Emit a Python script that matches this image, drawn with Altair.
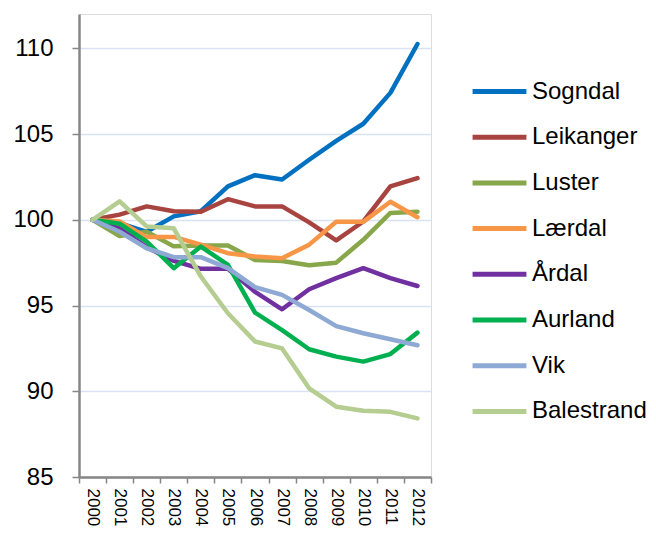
import altair as alt
import pandas as pd

years = [str(y) for y in range(2000, 2013)]
series = ["Sogndal", "Leikanger", "Luster", "Lærdal", "Årdal", "Aurland", "Vik", "Balestrand"]
colors = ["#0070C0", "#A8443F", "#88A64A", "#F79646", "#7030A0", "#00B050", "#8EA9D3", "#B6CD91"]

sogndal = [100, 99.8, 99.3, 100.2, 100.5, 101.95, 102.6, 102.35, 103.5, 104.6, 105.6, 107.4, 110.25]
leikanger = [100, 100.3, 100.78, 100.5, 100.47, 101.2, 100.78, 100.78, 99.85, 98.8, 99.9, 101.95, 102.43]
luster = [100, 99.05, 99.3, 98.45, 98.5, 98.5, 97.66, 97.6, 97.35, 97.5, 98.83, 100.4, 100.47]
laerdal = [100, 99.9, 98.99, 99.0, 98.55, 98.05, 97.86, 97.76, 98.55, 99.88, 99.88, 101.05, 100.15]
ardal = [100, 99.5, 98.4, 97.6, 97.14, 97.14, 95.8, 94.78, 95.95, 96.6, 97.18, 96.6, 96.14]
aurland = [100, 99.77, 98.73, 97.18, 98.44, 97.37, 94.59, 93.57, 92.45, 92.02, 91.73, 92.17, 93.42]
vik = [100, 99.3, 98.34, 97.82, 97.82, 97.18, 96.07, 95.62, 94.74, 93.8, 93.38, 93.03, 92.68]
balestrand = [100, 101.07, 99.61, 99.5, 96.69, 94.55, 92.9, 92.5, 90.17, 89.1, 88.86, 88.8, 88.42]

values = [sogndal, leikanger, luster, laerdal, ardal, aurland, vik, balestrand]

rows = []
for name, vals in zip(series, values):
    for yr, v in zip(years, vals):
        rows.append({"year": yr, "kommune": name, "value": v})
df = pd.DataFrame(rows)

FONT = "Liberation Sans"

chart = alt.Chart(df).mark_line(strokeWidth=4.5, strokeCap="round", strokeJoin="round").encode(
    x=alt.X("year:N", sort=years, title=None, bandPosition=0.5,
            scale=alt.Scale(type="band", paddingInner=0, paddingOuter=0),
            axis=alt.Axis(labelAngle=90, labelFontSize=17, labelColor="#000000", labelFont=FONT,
                          labelPadding=5, tickBand="extent", tickSize=6, tickColor="#868686",
                          tickWidth=1.5, domainColor="#868686", domainWidth=2.5, grid=False,
                          labelAlign="left", labelBaseline="middle")),
    y=alt.Y("value:Q", title=None,
            scale=alt.Scale(domain=[85, 112], nice=False, zero=False),
            axis=alt.Axis(values=[85, 90, 95, 100, 105, 110], labelFontSize=24, labelColor="#000000",
                          labelFont=FONT, labelPadding=19, tickSize=7, tickColor="#868686",
                          tickWidth=1.5, domainColor="#868686", domainWidth=2.5,
                          grid=True, gridColor="#D9E2F3", gridWidth=1.5)),
    color=alt.Color("kommune:N", sort=series,
                    scale=alt.Scale(domain=series, range=colors),
                    legend=alt.Legend(title=None, orient="none", legendX=391, legendY=48,
                                      symbolType="stroke", symbolSize=2900, symbolStrokeWidth=5,
                                      labelFontSize=24, labelFont=FONT, labelColor="#000000",
                                      labelOffset=3, rowPadding=3.7, labelLimit=300)),
    order=alt.Order("year:N"),
).properties(
    width=352, height=463,
    autosize=alt.AutoSizeParams(type="none"),
    padding={"left": 71, "top": 6, "right": 217, "bottom": 51},
).configure_view(stroke=None).configure(background="#FFFFFF")

chart.save("out.html", embed_options={"renderer": "svg", "actions": False})
